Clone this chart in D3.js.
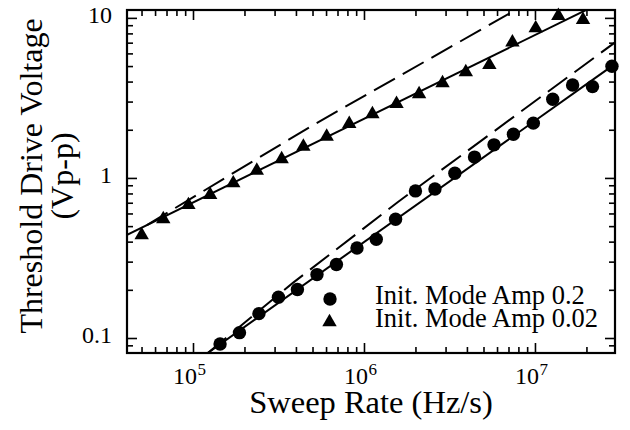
<!DOCTYPE html>
<html>
<head>
<meta charset="utf-8">
<script src="https://cdn.jsdelivr.net/npm/d3@7"></script>
<style>
  body { margin: 0; background: #fff; }
  svg { display: block; font-family: "Liberation Serif", "Times New Roman", serif; }
</style>
</head>
<body>
<svg id="chart" width="630" height="430"></svg>
<script>
// measured points, Init. Mode Amp 0.2 (circles)
const rateAmp02 = [1.44e5, 1.87e5, 2.43e5, 3.16e5, 4.08e5, 5.31e5, 6.9e5, 9.1e5, 1.18e6, 1.53e6,
  2.0e6, 2.6e6, 3.4e6, 4.43e6, 5.76e6, 7.48e6, 9.78e6, 1.27e7, 1.66e7, 2.17e7, 2.82e7];
const voltAmp02 = [0.0917, 0.108, 0.142, 0.18, 0.201, 0.249, 0.288, 0.365, 0.414, 0.552,
  0.83, 0.853, 1.07, 1.35, 1.61, 1.875, 2.2, 3.1, 3.81, 3.72, 4.99];

// measured points, Init. Mode Amp 0.02 (triangles)
const rateAmp002 = [5.01e4, 6.7e4, 9.4e4, 1.26e5, 1.72e5, 2.36e5, 3.3e5, 4.42e5, 6.05e5, 8.2e5,
  1.12e6, 1.55e6, 2.1e6, 2.88e6, 3.94e6, 5.41e6, 7.38e6, 1.01e7, 1.37e7, 1.91e7];
const voltAmp002 = [0.44, 0.554, 0.678, 0.783, 0.927, 1.11, 1.31, 1.57, 1.81, 2.18,
  2.51, 2.9, 3.34, 3.91, 4.58, 5.08, 7.03, 8.62, 10.3, 9.72];

// model curves (solid / dashed)
const fitSolid02 = [[1.22e5, 0.0806], [2.94e7, 5.16]];
const fitDash02 = [[1.22e5, 0.0806], [3.84e5, 0.221], [1.58e6, 0.708], [2.94e7, 7.03]];
const fitSolid002 = [[4.0e4, 0.435], [2.2e7, 11.8]];
const fitDash002 = [[5.38e4, 0.508], [5.04e5, 2.14], [7.14e6, 10.7], [1.0e7, 13.0]];

const xMajor = [1e5, 1e6, 1e7];
const xMajorExp = ["5", "6", "7"];
const yMajor = [0.1, 1, 10];
const yMajorText = ["0.1", "1", "10"];
const legendText = ["Init. Mode Amp 0.2", "Init. Mode Amp 0.02"];

const svg = d3.select("#chart");
const pL = 127, pR = 615, pT = 10, pB = 353;

const x = d3.scaleLog().domain([41115, 2.938e7]).range([pL, pR]);
const y = d3.scaleLog().domain([0.0806, 11.2]).range([pB, pT]);

const xMinor = x.ticks().filter(v => !xMajor.some(m => Math.abs(m - v) / m < 1e-6));
const yMinor = y.ticks().filter(v => !yMajor.some(m => Math.abs(m - v) / m < 1e-6));

// ticks, all pointing inward
function tickAxis(axisFn, scale, vals, len, tr) {
  const g = svg.append("g")
    .attr("transform", tr)
    .call(axisFn(scale).tickValues(vals).tickSize(-len).tickFormat(""));
  g.select(".domain").remove();
  g.selectAll(".tick line").attr("stroke", "#000").attr("stroke-width", 1.6);
}
tickAxis(d3.axisBottom, x, xMajor, 10, `translate(0,${pB})`);
tickAxis(d3.axisBottom, x, xMinor, 6, `translate(0,${pB})`);
tickAxis(d3.axisTop, x, xMajor, 10, `translate(0,${pT})`);
tickAxis(d3.axisTop, x, xMinor, 6, `translate(0,${pT})`);
tickAxis(d3.axisLeft, y, yMajor, 10, `translate(${pL},0)`);
tickAxis(d3.axisLeft, y, yMinor, 6, `translate(${pL},0)`);
tickAxis(d3.axisRight, y, yMajor, 10, `translate(${pR},0)`);
tickAxis(d3.axisRight, y, yMinor, 6, `translate(${pR},0)`);

svg.append("rect")
  .attr("x", pL).attr("y", pT)
  .attr("width", pR - pL).attr("height", pB - pT)
  .attr("fill", "none").attr("stroke", "#000").attr("stroke-width", 2.2);

// tick labels
svg.append("g").selectAll("text")
  .data(yMajor)
  .join("text")
  .attr("x", 112)
  .attr("y", d => y(d) + 5)
  .attr("text-anchor", "end")
  .attr("font-size", 24)
  .text((d, i) => yMajorText[i]);

// x labels: "10" and its exponent as two texts side by side
const xlg = svg.append("g").selectAll("g")
  .data(xMajor)
  .join("g")
  .attr("transform", d => `translate(${x(d)},384)`);
xlg.append("text")
  .attr("x", 4)
  .attr("text-anchor", "end")
  .attr("font-size", 24)
  .text("10");
xlg.append("text")
  .attr("x", 4.5)
  .attr("y", -9)
  .attr("font-size", 17)
  .text((d, i) => xMajorExp[i]);

// axis titles
svg.append("text")
  .attr("x", (pL + pR) / 2).attr("y", 413)
  .attr("text-anchor", "middle")
  .attr("font-size", 32.5)
  .text("Sweep Rate (Hz/s)");

svg.append("text")
  .attr("transform", "translate(42,176) rotate(-90)")
  .attr("text-anchor", "middle")
  .attr("font-size", 32)
  .text("Threshold Drive Voltage");
svg.append("text")
  .attr("transform", "translate(73,176) rotate(-90)")
  .attr("text-anchor", "middle")
  .attr("font-size", 32)
  .text("(Vp-p)");

// curves
svg.append("clipPath").attr("id", "plotClip")
  .append("rect").attr("x", pL).attr("y", pT)
  .attr("width", pR - pL).attr("height", pB - pT);

const line = d3.line().x(d => x(d[0])).y(d => y(d[1]));
const curves = svg.append("g").attr("clip-path", "url(#plotClip)")
  .attr("fill", "none").attr("stroke", "#000").attr("stroke-width", 2);
curves.append("path").attr("d", line(fitSolid02));
curves.append("path").attr("d", line(fitSolid002));
curves.append("path").attr("d", line(fitDash02)).attr("stroke-dasharray", "24,9");
curves.append("path").attr("d", line(fitDash002)).attr("stroke-dasharray", "24,9");

// markers
svg.append("g").selectAll("circle")
  .data(rateAmp02.map((r, i) => [r, voltAmp02[i]]))
  .join("circle")
  .attr("cx", d => x(d[0]))
  .attr("cy", d => y(d[1]))
  .attr("r", 6.7)
  .attr("fill", "#000");

const tri = d3.symbol(d3.symbolTriangle, 90);
svg.append("g").selectAll("path")
  .data(rateAmp002.map((r, i) => [r, voltAmp002[i]]))
  .join("path")
  .attr("transform", d => `translate(${x(d[0])},${y(d[1])})`)
  .attr("d", tri)
  .attr("fill", "#000");

// legend
const lg = svg.append("g");
lg.append("circle").attr("cx", 330).attr("cy", 299).attr("r", 6.7).attr("fill", "#000");
lg.append("path").attr("transform", "translate(329.5,322)").attr("d", tri).attr("fill", "#000");
lg.selectAll("text")
  .data(legendText)
  .join("text")
  .attr("x", 375)
  .attr("y", (d, i) => 303.5 + i * 23.5)
  .attr("font-size", 26.5)
  .text(d => d);
</script>
</body>
</html>
